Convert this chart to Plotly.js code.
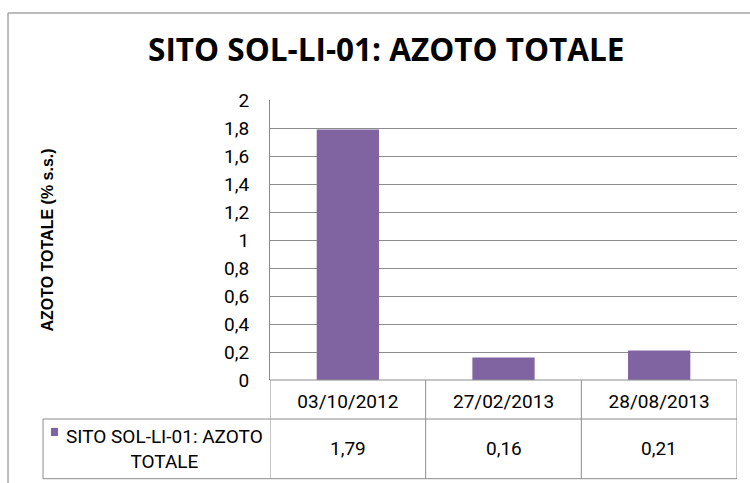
<!DOCTYPE html>
<html>
<head>
<meta charset="utf-8">
<script src="https://cdn.plot.ly/plotly-3.0.1.min.js"></script>
<style>
  body { margin: 0; background: #fff; }
  #chart { width: 750px; height: 483px; }
</style>
</head>
<body>
<div id="chart"></div>
<script>
// data
const dates = ["03/10/2012", "27/02/2013", "28/08/2013"];
const azoto = [1.79, 0.16, 0.21];
const yTicks = [0, 0.2, 0.4, 0.6, 0.8, 1, 1.2, 1.4, 1.6, 1.8, 2];
const seriesName = "SITO SOL-LI-01: AZOTO<br>TOTALE";

const purple = "#8064A2";
const lineCol = "#8c8c8c";
const fnt = "Roboto, sans-serif";

// table geometry in paper coords (plot area 270..737 x 100..380)
const rowHead = -0.1393;  // bottom of date row
const rowData = -0.3525;  // bottom of value row
const tableLeft = -0.486; // left edge of the legend cell
const rowMid = (rowHead + rowData) / 2;

let shapes = [];
// outer chart frame
shapes.push({type: "line", xref: "paper", yref: "paper", x0: -0.561, x1: 1.03, y0: 1.311, y1: 1.311, line: {color: "#a6a6a6", width: 1.5}});
shapes.push({type: "line", xref: "paper", yref: "paper", x0: -0.561, x1: -0.561, y0: 1.311, y1: -0.4, line: {color: "#a6a6a6", width: 1.5}});
// horizontal table lines
shapes.push({type: "line", xref: "paper", yref: "paper", x0: 0, x1: 1, y0: 0, y1: 0, line: {color: lineCol, width: 1}});
shapes.push({type: "line", xref: "paper", yref: "paper", x0: tableLeft, x1: 1, y0: rowHead, y1: rowHead, line: {color: lineCol, width: 1}});
shapes.push({type: "line", xref: "paper", yref: "paper", x0: tableLeft, x1: 1, y0: rowData, y1: rowData, line: {color: lineCol, width: 1}});
shapes.push({type: "line", xref: "paper", yref: "paper", x0: tableLeft, x1: tableLeft, y0: rowHead, y1: rowData, line: {color: lineCol, width: 1}});
// vertical dividers at category boundaries
for (let i = 0; i <= dates.length; i++) {
  shapes.push({type: "line", xref: "x", yref: "paper", x0: i - 0.5, x1: i - 0.5, y0: 0, y1: rowData, line: {color: lineCol, width: 1}});
}
// legend key square
shapes.push({type: "rect", xref: "paper", yref: "paper", x0: -0.469, x1: -0.454, y0: -0.171, y1: -0.2, fillcolor: purple, line: {width: 0}});

let annotations = [];
annotations.push({
  xref: "paper", yref: "paper", x: -0.226, y: rowMid,
  xanchor: "center", yanchor: "middle",
  text: seriesName, showarrow: false, align: "center",
  font: {family: fnt, size: 19, color: "#000"}
});
azoto.forEach((v, i) => {
  annotations.push({
    xref: "x", yref: "paper", x: i, y: rowMid,
    xanchor: "center", yanchor: "middle",
    text: v.toFixed(2).replace(".", ","), showarrow: false,
    font: {family: fnt, size: 19, color: "#000"}
  });
});

const data = [{
  type: "bar",
  x: dates,
  y: azoto,
  marker: {color: purple},
  width: 0.4,
  hoverinfo: "none"
}];

const layout = {
  width: 750,
  height: 483,
  margin: {l: 270, r: 13, t: 100, b: 103},
  paper_bgcolor: "#fff",
  plot_bgcolor: "#fff",
  showlegend: false,
  title: {
    text: "<b>SITO SOL-LI-01: AZOTO TOTALE</b>",
    x: 0.515, xanchor: "center", y: 0.896, yanchor: "middle",
    font: {family: "Open Sans, sans-serif", size: 31.5, color: "#000"}
  },
  xaxis: {
    type: "category",
    range: [-0.5, 2.5],
    showgrid: false,
    showline: false,
    ticks: "",
    ticklabelstandoff: 8,
    tickfont: {family: fnt, size: 19, color: "#000"}
  },
  yaxis: {
    range: [0, 2],
    tickvals: yTicks,
    ticktext: yTicks.map(v => String(v).replace(".", ",")),
    showgrid: true,
    gridcolor: "#8c8c8c",
    gridwidth: 1,
    showline: true,
    linecolor: lineCol,
    zeroline: false,
    ticks: "",
    ticklabelstandoff: 16,
    tickfont: {family: fnt, size: 19, color: "#000"},
    title: {
      text: "<b>AZOTO TOTALE (% s.s.)</b>",
      standoff: 166,
      font: {family: "Liberation Sans, Arial, sans-serif", size: 16, color: "#000"}
    }
  },
  shapes: shapes,
  annotations: annotations
};

Plotly.newPlot("chart", data, layout, {displayModeBar: false, staticPlot: true});
</script>
</body>
</html>
